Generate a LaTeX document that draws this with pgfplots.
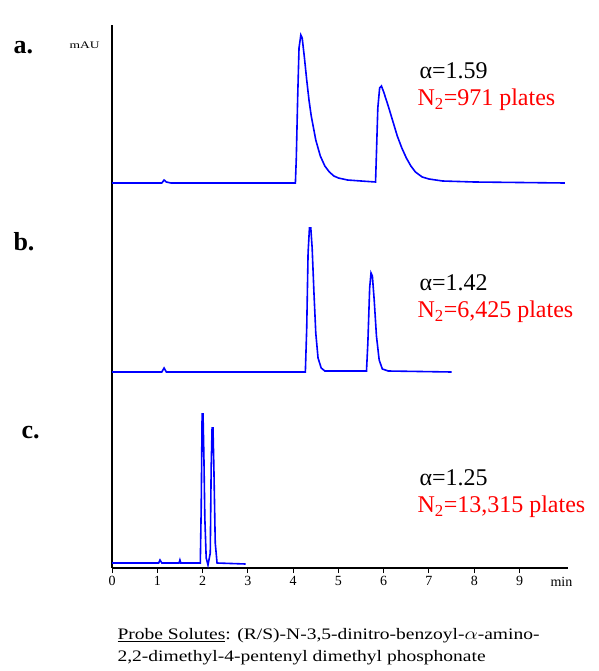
\documentclass[border=0pt]{standalone}
\usepackage{fontspec}
\setmainfont{Liberation Serif}
\usepackage{pgfplots}
\pgfplotsset{compat=1.18}
\newcommand\wide[2][1.35]{\scalebox{#1}[1]{#2}}
\begin{document}
\begin{tikzpicture}[x=1pt,y=1pt]
\path (0,0) rectangle (598,-671);
\begin{axis}[at={(112pt,-568pt)},anchor=origin,scale only axis,
 width=456pt,height=543pt,xmin=0,xmax=10.07,ymin=0,ymax=543,
 axis lines=left, axis line style={-,line width=1.6pt},
 ytick=\empty, xtick={0,...,9}, tick style={black,line width=1pt},
 tick align=outside, major tick length=5pt,
 /pgf/number format/assume math mode=true,
 xticklabel style={font=\fontsize{14}{14}\selectfont},
 clip=false]
\addplot[blue,line width=1.6pt] coordinates {(0,385)(1.1,385)(1.15,388)(1.2,386)(1.3,385)(4.05,385)(4.07,410)(4.1,470)(4.13,520)(4.17,533)(4.2,530)(4.25,510)(4.3,488)(4.35,468)(4.4,452)(4.5,428)(4.6,412)(4.7,402)(4.8,396)(4.9,392)(5.0,390)(5.2,388)(5.5,387)(5.82,386)(5.84,415)(5.87,460)(5.91,480)(5.95,482)(6.0,476)(6.1,462)(6.2,447)(6.3,432)(6.4,420)(6.5,410)(6.6,402)(6.7,396)(6.85,391)(7.0,389)(7.3,387)(8,386)(10,385)};
\addplot[blue,line width=1.6pt] coordinates {(0,196)(1.1,196)(1.15,200)(1.2,196)(4.27,196)(4.3,240)(4.33,315)(4.36,340)(4.39,340)(4.42,320)(4.46,275)(4.5,235)(4.55,210)(4.62,200)(4.7,197)(5.62,197)(5.65,225)(5.69,280)(5.72,295)(5.75,292)(5.79,268)(5.84,232)(5.9,208)(5.97,199)(6.1,197)(7.5,196)};
\addplot[blue,line width=1.6pt] coordinates {(0,5)(1.03,5)(1.06,8)(1.1,5)(1.48,5)(1.5,8)(1.52,5)(1.95,5)(1.97,60)(1.99,154)(2.01,154)(2.03,110)(2.05,50)(2.08,10)(2.12,3)(2.17,15)(2.19,100)(2.21,140)(2.23,140)(2.25,100)(2.28,25)(2.32,5)(2.95,4)};
\end{axis}
\node[anchor=west,font=\bfseries\fontsize{26}{26}\selectfont] at (10,-48) {a.};
\node[anchor=west,font=\bfseries\fontsize{26}{26}\selectfont] at (10,-242) {b.};
\node[anchor=west,font=\bfseries\fontsize{26}{26}\selectfont] at (18,-433) {c.};
\node[anchor=west,font=\fontsize{10}{10}\selectfont] at (66,-45) {\wide{mAU}};
\node[anchor=west,font=\fontsize{14}{14}\selectfont] at (547,-582) {min};
\begin{scope}[font=\fontsize{24}{24}\selectfont]
\node[anchor=west] at (416,-71) {α=1.59};
\node[anchor=west,red] at (414,-100) {N\textsubscript{2}=971 plates};
\node[anchor=west] at (416,-283) {α=1.42};
\node[anchor=west,red] at (414,-312) {N\textsubscript{2}=6,425 plates};
\node[anchor=west] at (416,-478) {α=1.25};
\node[anchor=west,red] at (414,-507) {N\textsubscript{2}=13,315 plates};
\end{scope}
\node[anchor=west,font=\fontsize{16}{16}\selectfont] at (114,-636) {\wide[1.22]{\underline{Probe Solutes}: (R/S)-N-3,5-dinitro-benzoyl-$\alpha$-amino-}};
\node[anchor=west,font=\fontsize{16}{16}\selectfont] at (114,-658) {\wide[1.22]{2,2-dimethyl-4-pentenyl dimethyl phosphonate}};
\end{tikzpicture}
\end{document}
